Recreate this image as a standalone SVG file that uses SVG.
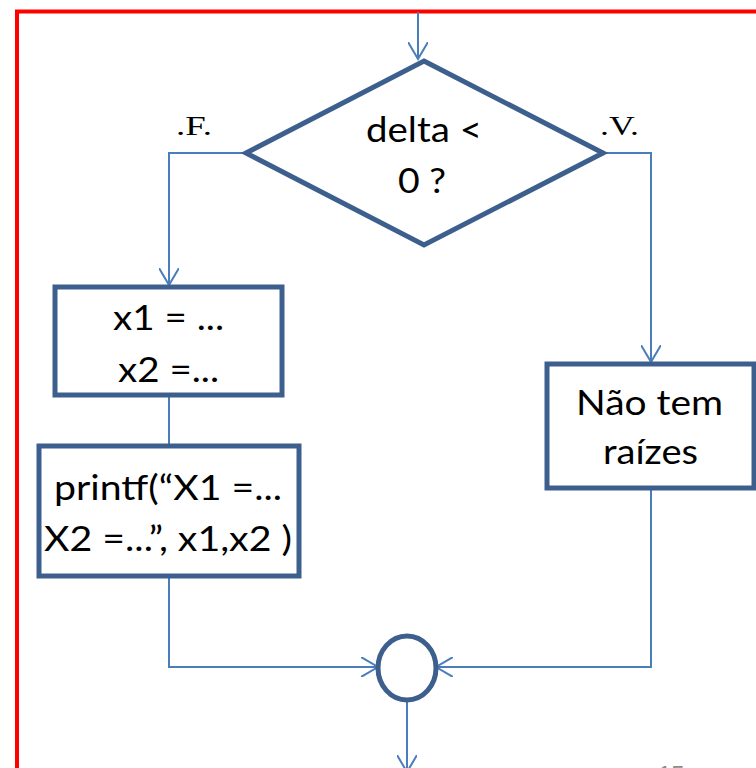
<svg xmlns="http://www.w3.org/2000/svg" width="756" height="768" viewBox="0 0 756 768">
  <style>
    .frame { fill: none; stroke: #ff0000; stroke-width: 4; }
    .node { fill: #ffffff; stroke: #3d5f8d; stroke-width: 5; }
    .edge { fill: none; stroke: #4a7ebb; stroke-width: 2; }
    .label { font-family: Lato, "Open Sans", sans-serif; font-size: 35px; fill: #000000; text-anchor: middle; }
    .branch { font-family: "Liberation Serif", serif; font-size: 28px; fill: #000000; }
    .page { font-family: "Liberation Sans", sans-serif; font-size: 24px; fill: #8c8c8c; }
  </style>
  <defs>
    <marker id="arrow" viewBox="0 0 20 20" refX="17" refY="10" markerWidth="20" markerHeight="20" markerUnits="userSpaceOnUse" orient="auto">
      <path d="M0,0 L17,10 L0,20" fill="none" stroke="#4a7ebb" stroke-width="2"/>
    </marker>
  </defs>

  <rect width="756" height="768" fill="#ffffff"/>
  <!-- slide frame -->
  <rect class="frame" x="17" y="11.5" width="780" height="800"/>

  <!-- connectors -->
  <g id="connectors">
    <path class="edge" d="M418,12 V59" marker-end="url(#arrow)"/>
    <path class="edge" d="M246,153 H169 V285" marker-end="url(#arrow)"/>
    <path class="edge" d="M169,395 V446"/>
    <path class="edge" d="M169,576 V667 H378" marker-end="url(#arrow)"/>
    <path class="edge" d="M603,153 H651 V362" marker-end="url(#arrow)"/>
    <path class="edge" d="M651,488 V667 H436" marker-end="url(#arrow)"/>
    <path class="edge" d="M407,700 V772" marker-end="url(#arrow)"/>
  </g>

  <!-- branch labels -->
  <text class="branch" x="176" y="135" textLength="36" lengthAdjust="spacingAndGlyphs">.F.</text>
  <text class="branch" x="600" y="135" textLength="39" lengthAdjust="spacingAndGlyphs">.V.</text>

  <!-- decision -->
  <g id="decision">
    <polygon class="node" points="424,61 603,153 424,245 246,153"/>
    <text class="label" x="424" y="142" textLength="116" lengthAdjust="spacingAndGlyphs">delta &lt;</text>
    <text class="label" x="422" y="193" textLength="48" lengthAdjust="spacingAndGlyphs">0 ?</text>
  </g>

  <!-- assignment -->
  <g id="assign">
    <rect class="node" x="55" y="287" width="227" height="108"/>
    <text class="label" x="168.5" y="330" textLength="111" lengthAdjust="spacingAndGlyphs">x1 = ...</text>
    <text class="label" x="168.5" y="382" textLength="101" lengthAdjust="spacingAndGlyphs">x2 =...</text>
  </g>

  <!-- output -->
  <g id="print">
    <rect class="node" x="39" y="446" width="260" height="130"/>
    <text class="label" x="168" y="500" textLength="228" lengthAdjust="spacingAndGlyphs">printf(“X1 =...</text>
    <text class="label" x="168" y="551" textLength="248" lengthAdjust="spacingAndGlyphs">X2 =...”, x1,x2 )</text>
  </g>

  <!-- no roots -->
  <g id="noroots">
    <rect class="node" x="547" y="364" width="207" height="124"/>
    <text class="label" x="649.5" y="415" textLength="147" lengthAdjust="spacingAndGlyphs">Não tem</text>
    <text class="label" x="650.5" y="464" textLength="95" lengthAdjust="spacingAndGlyphs">raízes</text>
  </g>

  <!-- merge point -->
  <g id="merge">
    <ellipse class="node" cx="407" cy="668" rx="29" ry="32"/>
  </g>

  <text class="page" x="658" y="783">15</text>
</svg>
